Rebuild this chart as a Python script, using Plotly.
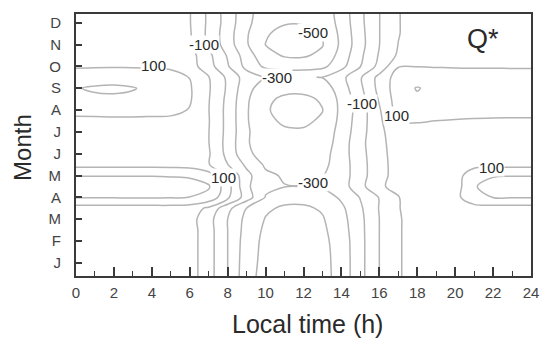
import plotly.graph_objects as go

# Local time of day (h) and month positions of the grid rows
hours = list(range(25))
month_rows = [0.4, 1.0, 1.5, 2.0, 2.5, 3.0, 3.5, 4.0, 4.5, 5.0, 5.5, 6.0, 6.5,
              7.0, 7.5, 8.0, 8.5, 9.0, 9.5, 10.0, 10.5, 11.0, 11.5, 12.0, 12.4]

month_ticks = list(range(1, 13))
month_labels = ["J", "F", "M", "A", "M", "J", "J", "A", "S", "O", "N", "D"]

# Net all-wave radiation Q* (W m-2), one row per month position, one column per hour
q_star = [
    [50, 50, 50, 50, 50, 50, 45, -60, -200, -365, -435, -460, -462, -435, -360, -230, -100, -10, 45, 50, 50, 50, 50, 50, 50],
    [50, 50, 50, 50, 50, 50, 45, -60, -200, -360, -430, -458, -460, -432, -360, -230, -100, -10, 45, 50, 50, 50, 50, 50, 50],
    [50, 50, 50, 50, 50, 50, 45, -60, -200, -355, -428, -455, -457, -430, -358, -230, -100, -10, 45, 50, 50, 50, 50, 50, 50],
    [50, 50, 50, 50, 50, 50, 45, -60, -200, -350, -425, -450, -452, -425, -355, -230, -100, -10, 45, 50, 50, 50, 50, 50, 50],
    [50, 50, 50, 50, 50, 50, 45, -60, -200, -340, -418, -445, -445, -418, -345, -228, -100, -10, 45, 50, 50, 50, 50, 50, 50],
    [50, 50, 50, 50, 50, 50, 40, -65, -200, -330, -405, -435, -435, -408, -335, -225, -100, -10, 45, 50, 50, 50, 50, 50, 50],
    [60, 60, 60, 60, 60, 60, 50, -20, -170, -302, -385, -415, -415, -390, -320, -215, -95, -5, 45, 50, 55, 60, 60, 60, 60],
    [205, 205, 206, 207, 207, 206, 199, 170, 20, -150, -305, -365, -368, -348, -285, -195, -95, -5, 45, 50, 70, 170, 201, 205, 205],
    [228, 230, 230, 230, 230, 228, 225, 210, 40, -180, -282, -297, -298, -288, -250, -130, -20, 40, 45, 45, 50, 195, 225, 230, 230],
    [198, 198, 198, 198, 198, 196, 192, 150, -2, -170, -280, -310, -312, -302, -250, -140, -30, 35, 45, 45, 50, 170, 195, 198, 198],
    [70, 70, 70, 70, 70, 68, 60, 5, -98, -220, -315, -345, -345, -325, -250, -140, -30, 35, 45, 50, 55, 65, 70, 70, 70],
    [55, 55, 55, 55, 55, 55, 50, 10, -130, -280, -340, -362, -365, -340, -245, -135, -25, 35, 45, 55, 55, 55, 55, 55, 55],
    [55, 55, 55, 55, 55, 55, 48, 2, -135, -290, -355, -378, -382, -360, -250, -130, -20, 35, 45, 55, 55, 55, 55, 55, 55],
    [60, 60, 60, 60, 60, 58, 50, 2, -130, -285, -370, -390, -392, -370, -260, -140, -20, 50, 60, 62, 62, 62, 62, 62, 62],
    [80, 80, 82, 82, 80, 78, 60, 5, -130, -290, -385, -410, -412, -390, -270, -145, -20, 105, 108, 99, 95, 92, 90, 90, 90],
    [125, 128, 130, 130, 128, 125, 95, 2, -130, -290, -392, -424, -426, -402, -275, -150, -10, 140, 150, 140, 130, 128, 126, 125, 125],
    [175, 185, 185, 180, 165, 150, 110, 5, -125, -285, -385, -414, -415, -392, -270, -140, 10, 150, 185, 165, 150, 150, 155, 165, 175],
    [195, 210, 215, 205, 180, 165, 110, 10, -115, -270, -350, -378, -380, -355, -250, -120, 30, 155, 206, 170, 150, 145, 150, 165, 185],
    [150, 160, 165, 162, 150, 135, 98, 5, -120, -250, -298, -305, -305, -298, -230, -110, 30, 145, 150, 140, 130, 128, 130, 135, 145],
    [90, 92, 92, 92, 90, 85, 45, -60, -190, -330, -420, -445, -448, -425, -330, -202, -70, 95, 98, 96, 95, 94, 94, 92, 90],
    [70, 70, 70, 70, 68, 65, 40, -75, -210, -350, -470, -508, -510, -480, -360, -220, -90, 15, 55, 60, 65, 65, 68, 70, 70],
    [60, 60, 60, 60, 60, 58, 15, -120, -250, -390, -502, -540, -542, -505, -380, -235, -102, 2, 50, 55, 58, 60, 60, 60, 60],
    [58, 58, 58, 58, 58, 56, 10, -125, -255, -390, -490, -530, -532, -495, -375, -232, -102, -5, 48, 55, 58, 58, 58, 58, 58],
    [55, 55, 55, 55, 55, 55, 5, -120, -245, -375, -465, -492, -492, -470, -365, -225, -102, -5, 45, 55, 55, 55, 55, 55, 55],
    [55, 55, 55, 55, 55, 55, 5, -120, -245, -370, -455, -480, -480, -460, -360, -222, -102, -5, 45, 55, 55, 55, 55, 55, 55],
]

# Contour labels: (hour, month position, level)
contour_labels = [
    (6.75, 11.02, -100),
    (4.1, 10.06, 100),
    (12.5, 11.57, -500),
    (10.6, 9.47, -300),
    (15.1, 8.28, -100),
    (16.9, 7.77, 100),
    (7.8, 4.89, 100),
    (12.5, 4.66, -300),
    (21.9, 5.35, 100),
]

line_grey = "#b4b4b4"
axis_col = "#3a3a3a"
text_col = "#2a2a2a"
font_family = "Liberation Sans, Arial, sans-serif"

fig = go.Figure()
fig.add_trace(go.Contour(
    x=hours,
    y=month_rows,
    z=q_star,
    contours=dict(start=-500, end=200, size=100, coloring="lines", showlabels=False),
    colorscale=[[0, line_grey], [1, line_grey]],
    showscale=False,
    line=dict(width=1.5, smoothing=1.0),
    hoverinfo="skip",
))

annotations = []
for h, m, lev in contour_labels:
    annotations.append(dict(
        x=h, y=m, xref="x", yref="y", text=str(lev), showarrow=False,
        font=dict(family=font_family, size=15, color=text_col),
        bgcolor="white", borderpad=0,
    ))

annotations += [
    dict(text="Q*", x=0.894, y=0.905, xref="paper", yref="paper", showarrow=False,
         xanchor="center", yanchor="middle",
         font=dict(family=font_family, size=27, color=text_col)),
    dict(text="Local time (h)", x=0.509, y=-0.185, xref="paper", yref="paper",
         showarrow=False, xanchor="center", yanchor="middle",
         font=dict(family=font_family, size=25, color=text_col)),
    dict(text="Month", x=-0.119, y=0.492, xref="paper", yref="paper", showarrow=False,
         textangle=-90, xanchor="center", yanchor="middle",
         font=dict(family=font_family, size=24, color=text_col)),
]

fig.update_layout(
    width=551, height=340,
    margin=dict(l=76, r=13, t=14, b=64),
    paper_bgcolor="white", plot_bgcolor="white",
    showlegend=False,
    annotations=annotations,
    font=dict(family=font_family, color=text_col),
)

fig.update_xaxes(
    range=[0, 24], tickmode="linear", tick0=0, dtick=2,
    ticks="inside", ticklen=9, tickwidth=1.6, tickcolor=axis_col,
    minor=dict(dtick=1, ticks="inside", ticklen=5, tickwidth=1.4, tickcolor=axis_col),
    showline=True, mirror=True, linecolor=axis_col, linewidth=2,
    showgrid=False, zeroline=False,
    tickfont=dict(size=15, color="#444"), ticklabelstandoff=2,
)
fig.update_yaxes(
    range=[0.4, 12.4], tickmode="array", tickvals=month_ticks, ticktext=month_labels,
    ticks="inside", ticklen=6, tickwidth=1.6, tickcolor=axis_col,
    showline=True, mirror=True, linecolor=axis_col, linewidth=2,
    showgrid=False, zeroline=False,
    tickfont=dict(size=15, color="#444"), ticklabelstandoff=10,
)

fig.write_html("out.html")
